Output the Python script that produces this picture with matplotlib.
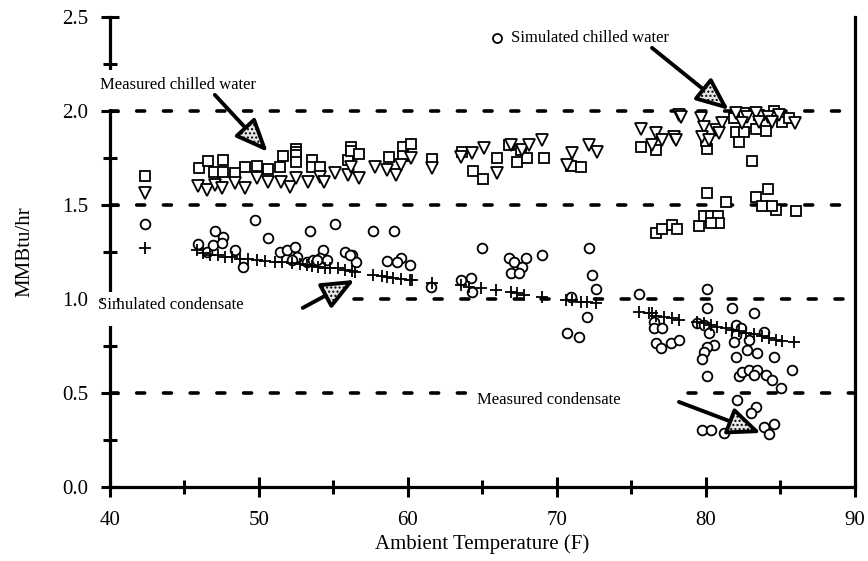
import matplotlib.pyplot as plt
from matplotlib.ticker import MultipleLocator
from matplotlib.patches import Rectangle

plt.rcParams['font.family'] = ['Liberation Serif', 'DejaVu Serif']

# Measured chilled water (open squares)
meas_cw_temp = [42.35, 45.97, 46.57, 47.57, 46.97, 47.57, 48.38, 49.05, 49.85, 50.59,
                51.39, 51.6, 52.47, 52.47, 52.47, 52.47, 53.54, 53.54, 54.07, 55.95,
                56.2, 56.2, 56.69, 58.7, 59.64, 60.24, 59.64, 61.65, 63.66, 64.4,
                65.07, 66.0, 66.8, 67.35, 67.6, 68.0, 69.15, 70.96, 71.6, 75.66,
                76.66, 80.08, 80.0, 82.0, 82.56, 82.2, 83.36, 84.03, 83.1, 85.1,
                82.56, 83.56, 84.57, 85.58, 81.9,
                80.08, 81.35, 83.36, 84.17, 83.77, 84.7, 86.04, 84.44, 76.66, 77.06,
                77.73, 78.07, 79.54, 79.88, 80.35, 80.8, 80.88, 80.35]
meas_cw_load = [1.654, 1.697, 1.734, 1.739, 1.676, 1.676, 1.670, 1.702, 1.707, 1.691,
                1.702, 1.761, 1.798, 1.782, 1.766, 1.729, 1.739, 1.702, 1.702, 1.739,
                1.809, 1.785, 1.771, 1.755, 1.809, 1.824, 1.761, 1.745, 1.782, 1.681,
                1.638, 1.75, 1.819, 1.729, 1.79, 1.75, 1.75, 1.707, 1.70, 1.809,
                1.793, 1.798, 1.84, 1.888, 1.888, 1.835, 1.904, 1.894, 1.734, 1.94,
                1.99, 1.98, 2.0, 1.96, 1.96,
                1.564, 1.516, 1.543, 1.585, 1.495, 1.473, 1.468, 1.495, 1.351, 1.372,
                1.394, 1.372, 1.388, 1.441, 1.441, 1.441, 1.404, 1.404]

# Simulated chilled water (open down triangles)
sim_cw_temp = [42.35, 45.9, 46.5, 47.04, 47.5, 48.38, 49.05, 49.85, 50.6, 51.5,
               52.06, 52.5, 53.3, 54.07, 54.4, 55.08, 55.95, 56.2, 56.7, 57.76,
               58.63, 59.17, 59.57, 60.24, 61.65, 63.6, 64.33, 65.13, 66.0, 66.94,
               67.68, 68.15, 69.0, 71.03, 72.17, 72.7, 70.7, 75.66, 76.66, 77.06,
               76.4, 77.87, 78.2, 78.34, 78.0, 79.68, 79.88, 79.74, 80.2, 80.7,
               81.1, 80.9, 82.0, 82.76, 83.4, 84.2, 84.9, 86.0, 82.4, 83.56, 84.44]
sim_cw_load = [1.564, 1.60, 1.58, 1.606, 1.59, 1.617, 1.59, 1.644, 1.622, 1.622,
               1.596, 1.644, 1.622, 1.649, 1.622, 1.67, 1.66, 1.70, 1.644, 1.70,
               1.686, 1.66, 1.713, 1.75, 1.697, 1.755, 1.777, 1.803, 1.67, 1.819,
               1.793, 1.819, 1.846, 1.777, 1.819, 1.782, 1.713, 1.904, 1.883, 1.846,
               1.819, 1.862, 1.98, 1.968, 1.846, 1.963, 1.915, 1.862, 1.846, 1.9,
               1.936, 1.883, 1.99, 1.968, 1.99, 1.968, 1.98, 1.936, 1.936, 1.94, 1.94]

# Measured condensate (open circles)
meas_cond_temp = [42.35, 49.72, 47.04, 47.57, 50.59, 53.40, 55.08, 57.63, 59.10, 45.90,
                  46.50, 46.90, 48.38, 48.91, 51.39, 51.86, 52.40, 52.53, 53.20, 53.61,
                  54.28, 54.08, 54.54, 55.75, 56.22, 56.55, 58.57, 59.57, 60.11, 47.51,
                  52.20, 53.87, 56.09, 59.24, 65.00, 61.58, 63.59, 64.26, 64.33, 66.81,
                  67.14, 67.95, 67.68, 66.94, 67.48, 69.02, 72.17, 72.37, 72.64, 70.96,
                  72.04, 70.70, 71.50, 75.52, 76.53, 76.66, 80.08, 80.08, 81.76, 83.23,
                  76.53, 77.06, 77.00, 77.67, 78.20, 79.41, 79.88, 80.21, 80.55, 80.08,
                  79.88, 79.74, 80.08, 82.02, 82.36, 82.02, 82.90, 83.90, 81.89, 82.76,
                  83.43, 84.57, 82.02, 85.78, 82.22, 82.43, 82.90, 83.43, 84.03, 84.44,
                  83.23, 85.04, 82.09, 83.36, 83.03, 79.74, 80.35, 81.22, 83.90, 84.57,
                  84.24]
meas_cond_load = [1.399, 1.420, 1.362, 1.330, 1.324, 1.362, 1.399, 1.362, 1.362, 1.293,
                  1.250, 1.287, 1.261, 1.170, 1.250, 1.261, 1.277, 1.223, 1.197, 1.207,
                  1.261, 1.218, 1.207, 1.250, 1.234, 1.197, 1.202, 1.218, 1.181, 1.298,
                  1.207, 1.207, 1.234, 1.197, 1.271, 1.064, 1.101, 1.112, 1.037, 1.218,
                  1.197, 1.218, 1.170, 1.138, 1.138, 1.234, 1.271, 1.128, 1.053, 1.011,
                  0.904, 0.819, 0.798, 1.027, 0.878, 0.766, 1.053, 0.952, 0.952, 0.926,
                  0.846, 0.846, 0.739, 0.766, 0.782, 0.872, 0.862, 0.819, 0.755, 0.745,
                  0.718, 0.681, 0.590, 0.862, 0.846, 0.809, 0.782, 0.824, 0.771, 0.729,
                  0.713, 0.691, 0.691, 0.622, 0.590, 0.612, 0.622, 0.622, 0.596, 0.569,
                  0.596, 0.527, 0.463, 0.426, 0.394, 0.303, 0.303, 0.287, 0.319, 0.335,
                  0.282]

# Simulated condensate (plus signs)
sim_cond_temp = [42.35, 45.83, 46.23, 46.70, 47.24, 47.71, 48.18, 48.71, 49.25, 49.85,
                 50.39, 51.06, 51.53, 52.2, 52.73, 53.2, 53.54, 53.94, 54.41, 54.75,
                 55.28, 55.75, 56.22, 56.42, 57.63, 58.23, 58.63, 58.97, 59.57, 60.11,
                 60.31, 61.65, 63.59, 64.13, 64.93, 65.94, 66.94, 67.35, 67.81, 69.02,
                 70.63, 71.03, 71.64, 72.04, 72.64, 75.52, 76.19, 76.39, 76.66, 77.2,
                 77.73, 78.2, 79.41, 79.88, 80.35, 80.75, 81.35, 81.76, 82.22, 82.69,
                 83.23, 83.77, 84.24, 84.7, 85.1, 85.91]
sim_cond_load = [1.27, 1.26, 1.245, 1.234, 1.234, 1.223, 1.223, 1.213, 1.213, 1.207,
                 1.202, 1.197, 1.197, 1.191, 1.186, 1.181, 1.176, 1.17, 1.165, 1.165,
                 1.165, 1.154, 1.149, 1.144, 1.128, 1.122, 1.117, 1.112, 1.106, 1.101,
                 1.101, 1.085, 1.074, 1.064, 1.059, 1.048, 1.037, 1.032, 1.021, 1.011,
                 0.995, 0.995, 0.984, 0.984, 0.979, 0.931, 0.926, 0.926, 0.910, 0.904,
                 0.899, 0.888, 0.878, 0.872, 0.862, 0.851, 0.846, 0.835, 0.83, 0.819,
                 0.814, 0.803, 0.793, 0.782, 0.777, 0.771]

grid_levels = [0.5, 1.0, 1.5, 2.0]

fig = plt.figure(figsize=(8.68, 5.61), dpi=100)
ax = fig.add_axes([0.1267, 0.132, 0.858, 0.838])

# dashed reference lines (two of them are broken around the labels)
dash = dict(color='black', lw=2.6, linestyle=(0, (2.2, 5.2)), dash_capstyle='round', zorder=1)
for lev in grid_levels:
    if lev == 1.0:
        ax.plot([56.4, 90], [lev, lev], **dash)
    elif lev == 0.5:
        ax.plot([40, 64.1], [lev, lev], **dash)
        ax.plot([78.8, 90], [lev, lev], **dash)
    else:
        ax.plot([40, 90], [lev, lev], **dash)

mk = dict(linestyle='none', mfc='white', mec='black', mew=1.3, zorder=3)
ax.plot(meas_cw_temp, meas_cw_load, marker='s', ms=6.5, **mk)
ax.plot(sim_cw_temp, sim_cw_load, marker='v', ms=8, **mk)
ax.plot(meas_cond_temp, meas_cond_load, marker='o', ms=7, **mk)
ax.plot(sim_cond_temp, sim_cond_load, marker='+', ms=8, linestyle='none',
        color='black', mew=1.3, zorder=3)

ax.set_xlim(40, 90)
ax.set_ylim(0, 2.5)
ax.xaxis.set_major_locator(MultipleLocator(10))
ax.xaxis.set_minor_locator(MultipleLocator(5))
ax.yaxis.set_major_locator(MultipleLocator(0.5))
ax.yaxis.set_minor_locator(MultipleLocator(0.25))
ax.yaxis.set_major_formatter(plt.FormatStrFormatter('%.1f'))
ax.tick_params(which='major', direction='inout', length=15, width=2.2, labelsize=15)
ax.tick_params(which='minor', direction='inout', length=10, width=2.2)
ax.tick_params(axis='x', which='major', pad=10)
ax.tick_params(axis='y', which='major', length=13, pad=9)

for side in ['left', 'bottom', 'right']:
    ax.spines[side].set_linewidth(2.3)
ax.spines['top'].set_visible(False)

ax.set_xlabel('Ambient Temperature (F)', fontsize=15, labelpad=3)
ax.set_ylabel('MMBtu/hr', fontsize=15, labelpad=20)

# white gaps in the left axis behind the two left callouts
for y0, y1 in [(2.01, 2.218), (0.856, 1.037)]:
    ax.add_patch(Rectangle((39.55, y0), 0.9, y1 - y0, facecolor='white',
                           edgecolor='none', clip_on=False, zorder=4))

# callout labels
ax.text(39.33, 2.138, 'Measured chilled water', fontsize=12, ha='left', va='center',
        zorder=5)
ax.text(39.2, 0.968, 'Simulated condensate', fontsize=12, ha='left', va='center',
        zorder=5)
ax.text(66.94, 2.388, 'Simulated chilled water', fontsize=12, ha='left', va='center', zorder=5)
ax.plot([66.0], [2.388], marker='o', ms=6.5, **mk)
ax.text(64.66, 0.463, 'Measured condensate', fontsize=12, ha='left', va='center', zorder=5)

# arrows with stippled heads
arrows = [((47.04, 2.085), (50.59, 1.782)),
          ((76.39, 2.335), (81.55, 2.005)),
          ((52.94, 0.952), (56.42, 1.101)),
          ((78.2, 0.452), (83.7, 0.287))]
for tail, tip in arrows:
    ax.annotate('', xy=tip, xytext=tail, zorder=6,
                arrowprops=dict(arrowstyle='-|>,head_length=2.0,head_width=0.85',
                                mutation_scale=10, lw=2.8, fc='#e6e6e6', ec='black',
                                hatch='....', shrinkA=0, shrinkB=0))

fig.savefig('out.png', dpi=100)
